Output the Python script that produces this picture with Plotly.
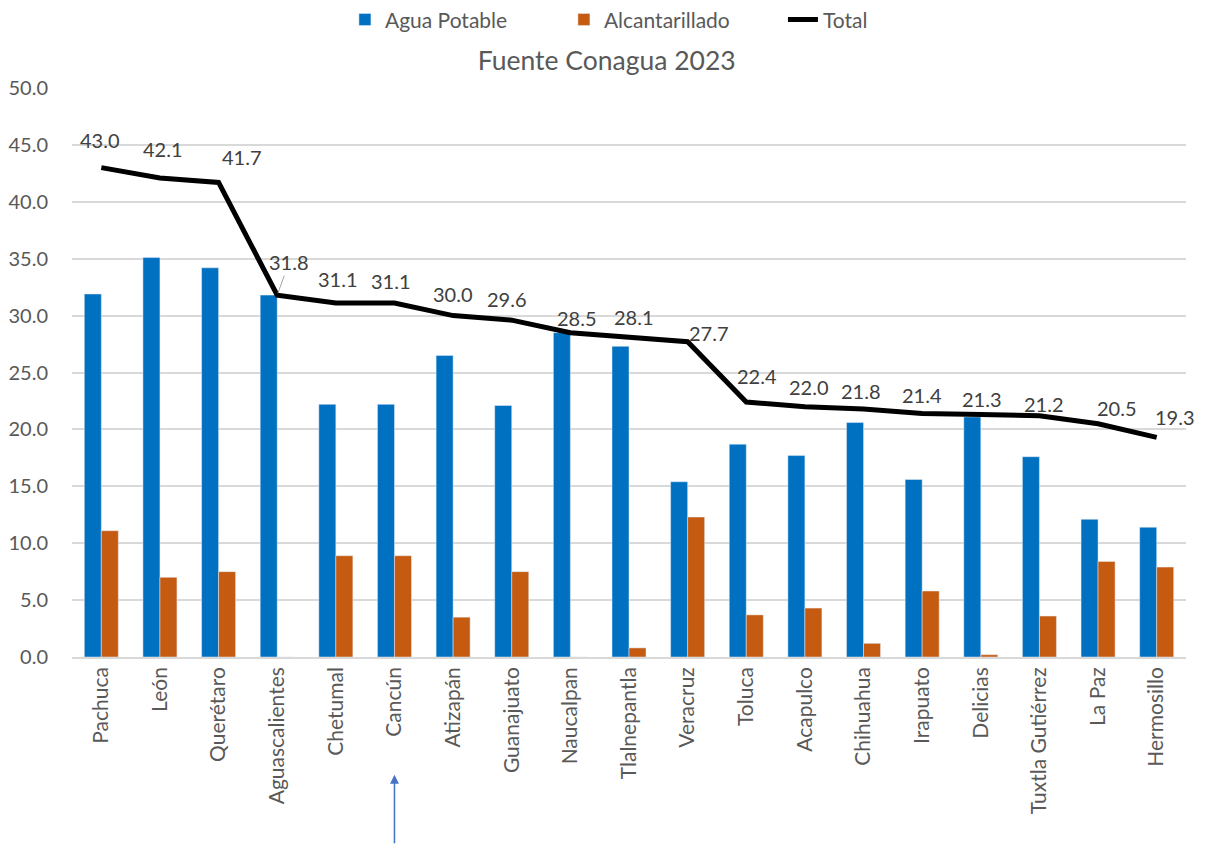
import plotly.graph_objects as go

ciudades = ["Pachuca", "León", "Querétaro", "Aguascalientes", "Chetumal", "Cancún",
            "Atizapán", "Guanajuato", "Naucalpan", "Tlalnepantla", "Veracruz", "Toluca",
            "Acapulco", "Chihuahua", "Irapuato", "Delicias", "Tuxtla Gutiérrez", "La Paz",
            "Hermosillo"]
agua_potable = [31.9, 35.1, 34.2, 31.8, 22.2, 22.2, 26.5, 22.1, 28.5, 27.3, 15.4, 18.7,
                17.7, 20.6, 15.6, 21.1, 17.6, 12.1, 11.4]
alcantarillado = [11.1, 7.0, 7.5, 0.0, 8.9, 8.9, 3.5, 7.5, 0.0, 0.8, 12.3, 3.7,
                  4.3, 1.2, 5.8, 0.2, 3.6, 8.4, 7.9]
total = [43.0, 42.1, 41.7, 31.8, 31.1, 31.1, 30.0, 29.6, 28.5, 28.1, 27.7, 22.4,
         22.0, 21.8, 21.4, 21.3, 21.2, 20.5, 19.3]
y_ticks = [0, 5, 10, 15, 20, 25, 30, 35, 40, 45, 50]

# label placement (style only, pixel offsets of the Total data labels)
label_dx = [-1, 3, 23, 12, 2, -3, 0, -5, 7, 5, 21, 11, 4, -3, 0, 1, 5, 19, 18]
label_dy = [28, 29, 25, 33, 24, 22, 22, 21, 15, 20, 9, 26, 20, 18, 18, 16, 12, 16, 20]

FONT = "Lato"
fig = go.Figure()
fig.add_trace(go.Bar(x=ciudades, y=agua_potable, name="Agua Potable",
                     marker=dict(color="#0070C0")))
fig.add_trace(go.Bar(x=ciudades, y=alcantarillado, name="Alcantarillado",
                     marker=dict(color="#C55A11")))
fig.add_trace(go.Scatter(x=ciudades, y=total, name="Total", mode="lines",
                         line=dict(color="black", width=5)))

# data labels for total
for c, v, dx, dy in zip(ciudades, total, label_dx, label_dy):
    if c == "Aguascalientes":
        fig.add_annotation(x=c, y=v, text=f"{v:.1f}", showarrow=True, arrowhead=0,
                           arrowcolor="#A6A6A6", arrowwidth=1, ax=dx, ay=-dy,
                           font=dict(family=FONT, size=20, color="#404040"),
                           standoff=2)
    else:
        fig.add_annotation(x=c, y=v, text=f"{v:.1f}", showarrow=False,
                           xshift=dx, yshift=dy,
                           font=dict(family=FONT, size=20, color="#404040"))

# arrow under Cancún
fig.add_annotation(x="Cancún", xref="x", y=-0.207, yref="paper", text="",
                   showarrow=True, arrowhead=2, arrowsize=1.2, arrowwidth=1.5,
                   arrowcolor="#4472C4", ax=0, ay=70)

fig.update_layout(
    width=1212, height=844,
    margin=dict(l=64, r=34, t=80, b=195),
    paper_bgcolor="white", plot_bgcolor="white",
    barmode="group", bargap=0.42, bargroupgap=0,
    font=dict(family=FONT, color="#595959"),
    title=dict(text="Fuente Conagua 2023", x=0.494, xanchor="center", y=0.938,
               yanchor="middle", font=dict(family=FONT, size=26.5, color="#595959")),
    legend=dict(orientation="h", xref="container", x=0.278, xanchor="left",
                yref="container", y=0.986, yanchor="middle",
                entrywidth=174, entrywidthmode="pixels",
                font=dict(family=FONT, size=21, color="#595959"), traceorder="normal"),
    xaxis=dict(range=[-0.5, len(ciudades) - 0.5], autorange=False,
               tickangle=-90, tickfont=dict(family=FONT, size=21, color="#595959"),
               showline=True, linecolor="#D9D9D9", linewidth=1.5, ticks="",
               automargin=False),
    yaxis=dict(range=[0, 50], autorange=False, tickvals=y_ticks, tickformat=".1f",
               tickfont=dict(family=FONT, size=20, color="#595959"),
               showgrid=True, gridcolor="#D9D9D9", gridwidth=1.5, zeroline=False,
               ticks="", ticklabelstandoff=23, automargin=False),
    showlegend=True,
)
fig.write_html("out.html")
